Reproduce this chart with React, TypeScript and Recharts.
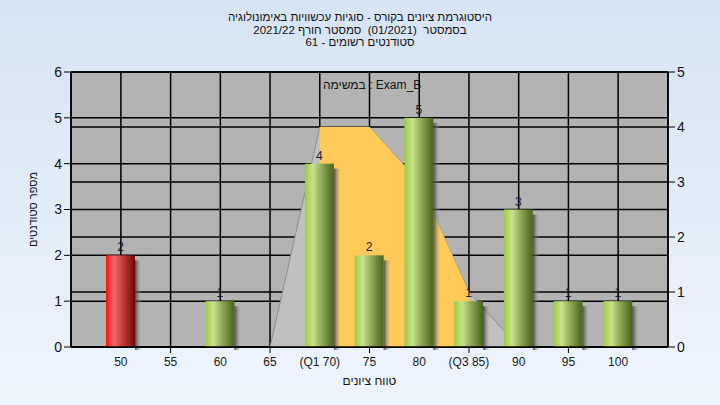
import {
  ComposedChart, Bar, Area, XAxis, YAxis, CartesianGrid, LabelList, Label, Cell
} from 'recharts';

// grade histogram for one course exam, with the normal-ish curve and the Q1..Q3 band behind it
const grades = ['50', '55', '60', '65', '(Q1 70)', '75', '80', '(Q3 85)', '90', '95', '100'];
const students = [2, 0, 1, 0, 4, 2, 5, 1, 3, 1, 1];
const curve = [null, null, null, 0, 4, 4, 3, 1, 0, null, null];
const quartileBand = [null, null, null, null, 4, 4, 3, 1, null, null, null];
const failing = [true, false, false, false, false, false, false, false, false, false, false];

const countTicks = [0, 1, 2, 3, 4, 5, 6];
const curveTicks = [0, 1, 2, 3, 4, 5];

const titleLines = [
  'היסטוגרמת ציונים בקורס - סוגיות עכשוויות באימונולוגיה',
  'בסמסטר  (01/2021)  סמסטר חורף 2021/22',
  'סטודנטים רשומים - 61',
];

const data = grades.map((g, i) => ({
  grade: g,
  students: students[i],
  curve: curve[i],
  band: quartileBand[i],
  fail: failing[i],
}));

const ShadowBar = (props: any) => {
  const { x, y, width, height, fill } = props;
  if (!height || height <= 0) return null;
  return (
    <g>
      <rect x={x + width} y={y + 5} width={7} height={height - 2} fill="url(#barShadow)" />
      <rect x={x} y={y} width={width} height={height} fill={fill} />
    </g>
  );
};

const GradeTick = (props: any) => {
  const { x, y, payload, index } = props;
  return (
    <g>
      {index % 2 === 1 && <line x1={x} y1={y - 8} x2={x} y2={y - 2} stroke="#000" />}
      <text x={x} y={y + 11} textAnchor="middle" fontSize={12} fill="#1a1a1a">
        {payload.value}
      </text>
    </g>
  );
};

export default function App() {
  return (
    <div
      style={{
        position: 'relative',
        width: 720,
        height: 405,
        background: 'linear-gradient(#d6e4f5, #eef5fd)',
        fontFamily: '"Liberation Sans", Arial, sans-serif',
        overflow: 'hidden',
      }}
    >
      <style>{'body{margin:0}'}</style>
      <div
        dir="rtl"
        style={{
          position: 'absolute', top: 11, left: 0, width: 720,
          textAlign: 'center', fontSize: 11.5, lineHeight: '12.5px', color: '#111',
        }}
      >
        {titleLines.map((t) => <div key={t} style={{ whiteSpace: 'pre' }}>{t}</div>)}
      </div>
      <div
        style={{
          position: 'absolute', top: 78, left: 323, fontSize: 12, color: '#111', zIndex: 2,
        }}
      >
        במשימה : Exam_B
      </div>

      <ComposedChart
        width={720}
        height={405}
        data={data}
        margin={{ top: 72, right: 0, bottom: 20, left: 0 }}
      >
        <defs>
          <linearGradient id="barGreen" x1="0" y1="0" x2="1" y2="0">
            <stop offset="0" stopColor="#9ccc3c" />
            <stop offset="0.28" stopColor="#c8e28e" />
            <stop offset="0.55" stopColor="#93ae58" />
            <stop offset="1" stopColor="#46621f" />
          </linearGradient>
          <linearGradient id="barRed" x1="0" y1="0" x2="1" y2="0">
            <stop offset="0" stopColor="#ff1010" />
            <stop offset="0.28" stopColor="#f06a6a" />
            <stop offset="0.55" stopColor="#c84040" />
            <stop offset="1" stopColor="#6c0808" />
          </linearGradient>
          <linearGradient id="barShadow" x1="0" y1="0" x2="1" y2="0">
            <stop offset="0" stopColor="#3a3a3a" stopOpacity={0.9} />
            <stop offset="1" stopColor="#b3b3b3" stopOpacity={0} />
          </linearGradient>
        </defs>

        <CartesianGrid yAxisId="left" stroke="#000" strokeWidth={1.5} fill="#b3b3b3" fillOpacity={1} />
        <CartesianGrid yAxisId="right" vertical={false} stroke="#000" strokeWidth={1.5} />

        <XAxis
          dataKey="grade"
          padding={{ left: 25, right: 25 }}
          height={38}
          tickLine={false}
          tickSize={6}
          tick={<GradeTick />}
          axisLine={{ stroke: '#000', strokeWidth: 1.5 }}
          interval={0}
        >
          <Label value="טווח ציונים" position="insideBottom" offset={0} fontSize={12} fill="#111" />
        </XAxis>
        <YAxis
          yAxisId="left"
          width={71}
          domain={[0, 6]}
          ticks={countTicks}
          tickSize={7}
          tick={{ fontSize: 14, fill: '#111' }}
          stroke="#000"
          axisLine={{ stroke: '#000', strokeWidth: 1.5 }}
        >
          <Label value="מספר סטודנטים" angle={-90} position="center" dx={-2} fontSize={11} fill="#111" />
        </YAxis>
        <YAxis
          yAxisId="right"
          orientation="right"
          width={52}
          domain={[0, 5]}
          ticks={curveTicks}
          tickSize={7}
          tick={{ fontSize: 14, fill: '#111' }}
          stroke="#000"
          axisLine={{ stroke: '#000', strokeWidth: 1.5 }}
        />

        <Area
          yAxisId="right"
          type="linear"
          dataKey="curve"
          fill="#c0c0c0"
          fillOpacity={1}
          stroke="#8c8c8c"
          strokeWidth={1}
          isAnimationActive={false}
        />
        <Area
          yAxisId="right"
          type="linear"
          dataKey="band"
          fill="#fecb5a"
          fillOpacity={1}
          stroke="none"
          isAnimationActive={false}
        />
        <Bar
          yAxisId="left"
          dataKey="students"
          barSize={29}
          shape={<ShadowBar />}
          isAnimationActive={false}
        >
          {data.map((d) => (
            <Cell key={d.grade} fill={d.fail ? 'url(#barRed)' : 'url(#barGreen)'} />
          ))}
          <LabelList
            dataKey="students"
            position="top"
            offset={4}
            fontSize={12}
            fill="#1a1a2a"
            formatter={(v: any) => (v ? v : '')}
          />
        </Bar>
      </ComposedChart>
    </div>
  );
}
